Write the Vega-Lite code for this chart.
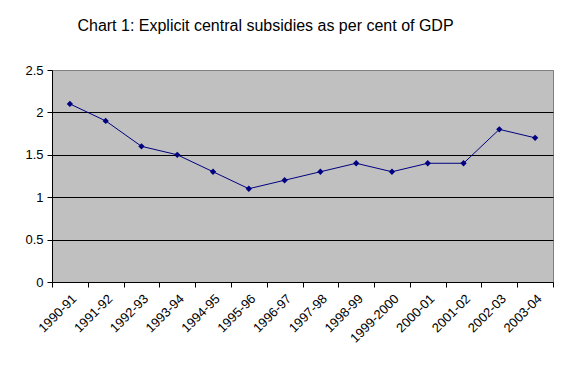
{
  "$schema": "https://vega.github.io/schema/vega-lite/v6.json",
  "width": 501,
  "height": 212,
  "autosize": {"type": "none"},
  "padding": {"left": 52, "top": 70, "right": 12, "bottom": 92},
  "background": "white",
  "title": {
    "text": "Chart 1: Explicit central subsidies as per cent of GDP",
    "font": "Liberation Sans",
    "fontSize": 16,
    "fontWeight": "normal",
    "color": "black",
    "anchor": "middle",
    "dx": -37,
    "offset": 30
  },
  "data": {
    "values": [
      {"year": "1990-91", "value": 2.1},
      {"year": "1991-92", "value": 1.9},
      {"year": "1992-93", "value": 1.6},
      {"year": "1993-94", "value": 1.5},
      {"year": "1994-95", "value": 1.3},
      {"year": "1995-96", "value": 1.1},
      {"year": "1996-97", "value": 1.2},
      {"year": "1997-98", "value": 1.3},
      {"year": "1998-99", "value": 1.4},
      {"year": "1999-2000", "value": 1.3},
      {"year": "2000-01", "value": 1.4},
      {"year": "2001-02", "value": 1.4},
      {"year": "2002-03", "value": 1.8},
      {"year": "2003-04", "value": 1.7}
    ]
  },
  "config": {
    "view": {"fill": "#C0C0C0", "stroke": "#808080", "strokeWidth": 1},
    "font": "Liberation Sans"
  },
  "encoding": {
    "x": {
      "field": "year",
      "type": "ordinal",
      "sort": null,
      "scale": {"paddingInner": 0, "paddingOuter": 0},
      "axis": {
        "title": null,
        "labelAngle": -45,
        "labelAlign": "right",
        "labelBaseline": "top",
        "labelFont": "Liberation Sans",
        "labelFontSize": 13,
        "labelColor": "black",
        "labelPadding": 5,
        "tickBand": "extent",
        "tickColor": "black",
        "tickSize": 5,
        "domainColor": "black",
        "grid": false
      }
    },
    "y": {
      "field": "value",
      "type": "quantitative",
      "scale": {"domain": [0, 2.5], "nice": false},
      "axis": {
        "title": null,
        "values": [0, 0.5, 1, 1.5, 2, 2.5],
        "format": "",
        "labelFont": "Liberation Sans",
        "labelFontSize": 13,
        "labelColor": "black",
        "labelPadding": 4,
        "tickColor": "black",
        "tickSize": 5,
        "domainColor": "black",
        "grid": true,
        "gridColor": {"condition": {"test": "datum.value == 2.5 || datum.value == 0", "value": "#808080"}, "value": "black"},
        "gridOpacity": 1
      }
    }
  },
  "layer": [
    {"mark": {"type": "line", "color": "#000080", "strokeWidth": 1}},
    {"mark": {"type": "point", "shape": "diamond", "filled": true, "color": "#000080", "size": 40, "opacity": 1}}
  ]
}
